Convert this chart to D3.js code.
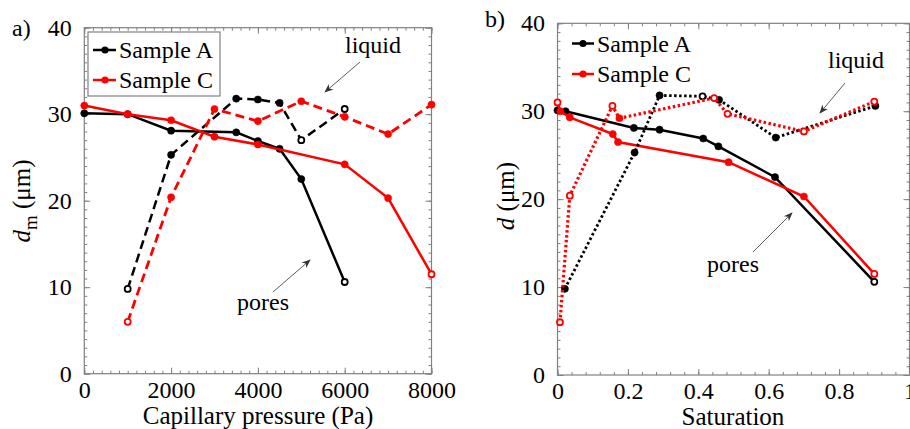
<!DOCTYPE html>
<html><head><meta charset="utf-8">
<script src="https://cdn.jsdelivr.net/npm/d3@7"></script>
<style>
html,body{margin:0;padding:0;background:#fff;}
</style></head>
<body><svg id="chart" width="910" height="429"></svg>
<script>
// ---- data ----
const seriesNames = ["Sample A", "Sample C"];
// pore and liquid diameters (µm)
const dA_pores  = [30.1, 30.0, 28.1, 27.9, 26.9, 26.0, 22.5, 10.6];
const dA_liquid = [9.8, 25.3, 31.8, 31.7, 31.3, 27.0, 30.6];
const dC_pores  = [31.0, 30.0, 29.3, 27.4, 26.5, 24.2, 20.3, 11.5];
const dC_liquid = [6.0, 20.4, 30.6, 29.2, 31.5, 29.7, 27.7, 31.1];
// capillary pressure (Pa)
const pA_pores  = [0, 1000, 2000, 3500, 4000, 4500, 5000, 6000];
const pA_liquid = [1000, 2000, 3500, 4000, 4500, 5000, 6000];
const pC_pores  = [0, 1000, 2000, 3000, 4000, 6000, 7000, 8000];
const pC_liquid = [1000, 2000, 3000, 4000, 5000, 6000, 7000, 8000];
// saturation
const sA_pores  = [0.0, 0.023, 0.217, 0.29, 0.414, 0.457, 0.618, 0.90];
const sA_liquid = [0.021, 0.219, 0.29, 0.412, 0.459, 0.62, 0.903];
const sC_pores  = [0.0, 0.008, 0.035, 0.157, 0.172, 0.486, 0.70, 0.90];
const sC_liquid = [0.007, 0.035, 0.156, 0.176, 0.445, 0.483, 0.70, 0.90];
// ticks
const pressureTicks = [0, 2000, 4000, 6000, 8000];
const saturationTicks = [0, 0.2, 0.4, 0.6, 0.8, 1];
const saturationTickLabels = ["0", "0.2", "0.4", "0.6", "0.8", "1"];
const dTicks = [0, 10, 20, 30, 40];

// ---- style ----
const RED = "#ff0000", BLACK = "#000000", FRAME = "#808080";
const svg = d3.select("#chart");
const zip = (xs, ys) => xs.map((x, i) => [x, ys[i]]);
const txt = (x, y, s, size) => svg.append("text").attr("x", x).attr("y", y)
  .attr("font-size", size).text(s);

function frame(x, y, xMajor, xMinor, yMajor, yMinor, xFmt) {
  const [x0, x1] = x.range(), [y0, y1] = y.range();
  const g = svg.append("g");
  const axes = [
    [d3.axisBottom(x), y0, "x"], [d3.axisTop(x), y1, "x"],
    [d3.axisLeft(y), x0, "y"], [d3.axisRight(y), x1, "y"]
  ];
  axes.forEach(([ax, pos, dir], k) => {
    const vals = dir === "x" ? xMajor : yMajor;
    const mins = dir === "x" ? xMinor : yMinor;
    const tr = dir === "x" ? `translate(0,${pos})` : `translate(${pos},0)`;
    const gm = g.append("g").attr("transform", tr)
      .call(ax.tickValues(mins).tickSize(-3).tickFormat(""));
    gm.select(".domain").remove();
    gm.selectAll("line").attr("stroke", FRAME).attr("stroke-width", 1);
    const ga = g.append("g").attr("transform", tr)
      .call(ax.tickValues(vals).tickSize(-6).tickPadding(k === 0 ? 7 : 12.5)
        .tickFormat(k === 0 ? xFmt : (k === 2 ? d3.format("d") : "")));
    ga.attr("font-size", 24);
    ga.select(".domain").remove();
    ga.selectAll("line").attr("stroke", FRAME).attr("stroke-width", 1);
    ga.selectAll("text").attr("fill", "#000").attr("font-size", 24);
  });
  g.append("rect").attr("x", x0).attr("y", y1).attr("width", x1 - x0).attr("height", y0 - y1)
    .attr("fill", "none").attr("stroke", FRAME).attr("stroke-width", 1.2);
  return g;
}

function series(x, y, pts, color, dash, width, openIdx) {
  const line = d3.line().x(d => x(d[0])).y(d => y(d[1]));
  svg.append("path").datum(pts).attr("d", line).attr("fill", "none")
    .attr("stroke", color).attr("stroke-width", width)
    .attr("stroke-dasharray", dash || null);
  svg.append("g").selectAll("circle").data(pts).join("circle")
    .attr("cx", d => x(d[0])).attr("cy", d => y(d[1]))
    .attr("r", (d, i) => openIdx.includes(i) ? 3 : 3.6)
    .attr("fill", (d, i) => openIdx.includes(i) ? "#fff" : color)
    .attr("stroke", color).attr("stroke-width", (d, i) => openIdx.includes(i) ? 1.8 : 0.5);
}

function legend(xs, ys, boxed) {
  if (boxed) svg.append("rect").attr("x", 88).attr("y", 32).attr("width", 132).attr("height", 64)
    .attr("fill", "#fff").attr("stroke", FRAME).attr("stroke-width", 1.2);
  [BLACK, RED].forEach((c, i) => {
    svg.append("line").attr("x1", xs[0]).attr("x2", xs[2]).attr("y1", ys[i]).attr("y2", ys[i])
      .attr("stroke", c).attr("stroke-width", 2.5);
    svg.append("circle").attr("cx", xs[1]).attr("cy", ys[i]).attr("r", 3.6).attr("fill", c);
    txt(xs[2] + 3, ys[i] + 8, seriesNames[i], 24);
  });
}

svg.append("defs").append("marker").attr("id", "arr").attr("viewBox", "0 0 10 10")
  .attr("refX", 9).attr("refY", 5).attr("markerWidth", 9).attr("markerHeight", 9)
  .attr("markerUnits", "userSpaceOnUse").attr("orient", "auto")
  .append("path").attr("d", "M0,1 L10,5 L0,9 L3,5 Z").attr("fill", "#333");

function note(s, tx, ty, ax1, ay1, ax2, ay2) {
  txt(tx, ty, s, 24);
  svg.append("line").attr("x1", ax1).attr("y1", ay1).attr("x2", ax2).attr("y2", ay2)
    .attr("stroke", "#333").attr("stroke-width", 0.8).attr("marker-end", "url(#arr)");
}

// ---- panel a ----
const xa = d3.scaleLinear().domain([0, 8000]).range([84.3, 431.5]);
const ya = d3.scaleLinear().domain([0, 40]).range([373.7, 27.7]);
frame(xa, ya, pressureTicks, d3.range(0, 8001, 200), dTicks, d3.range(0, 41, 1), d3.format("d"));
series(xa, ya, zip(pA_pores, dA_pores), BLACK, null, 2.5, [7]);
series(xa, ya, zip(pC_pores, dC_pores), RED, null, 2.5, [7]);
series(xa, ya, zip(pA_liquid, dA_liquid), BLACK, "9,5", 2.5, [0, 5, 6]);
series(xa, ya, zip(pC_liquid, dC_liquid), RED, "9,5", 2.8, [0]);
legend([93, 105, 116], [50, 80], true);
note("liquid", 345, 53, 360, 62, 325, 92);
note("pores", 237, 310, 273, 292, 310, 260);
txt(12, 36, "a)", 24);
txt(258, 424, "Capillary pressure (Pa)", 25).attr("text-anchor", "middle");
const ta = svg.append("text").attr("transform", "translate(30,201) rotate(-90)")
  .attr("text-anchor", "middle").attr("font-size", 25);
ta.append("tspan").attr("font-style", "italic").text("d");
ta.append("tspan").attr("dy", 7).attr("font-size", 19).text("m");
ta.append("tspan").attr("dy", -7).text(" (μm)");

// ---- panel b ----
const xb = d3.scaleLinear().domain([0, 1]).range([557.5, 909.5]);
const yb = d3.scaleLinear().domain([0, 40]).range([375, 23.3]);
frame(xb, yb, saturationTicks, d3.range(0, 1.0001, 0.04), dTicks, d3.range(0, 41, 1),
  (d, i) => saturationTickLabels[i]);
series(xb, yb, zip(sA_pores, dA_pores), BLACK, null, 2.5, [7]);
series(xb, yb, zip(sC_pores, dC_pores), RED, null, 2.5, [0, 7]);
series(xb, yb, zip(sA_liquid, dA_liquid), BLACK, "2.5,2.5", 2.8, [3]);
series(xb, yb, zip(sC_liquid, dC_liquid), RED, "2.5,2.5", 3.2, [0, 1, 2, 4, 5, 6, 7]);
legend([572, 583, 594], [43.5, 74], false);
note("liquid", 828, 68, 845, 83, 820, 113);
note("pores", 707, 272, 753, 252, 792, 213);
txt(485, 27, "b)", 24);
txt(733, 425, "Saturation", 25).attr("text-anchor", "middle");
const tb = svg.append("text").attr("transform", "translate(514,196) rotate(-90)")
  .attr("text-anchor", "middle").attr("font-size", 25);
tb.append("tspan").attr("font-style", "italic").text("d");
tb.append("tspan").text(" (μm)");

// apply serif font to every text
svg.selectAll("text").style("font-family", '"Liberation Serif"');
</script></body></html>
